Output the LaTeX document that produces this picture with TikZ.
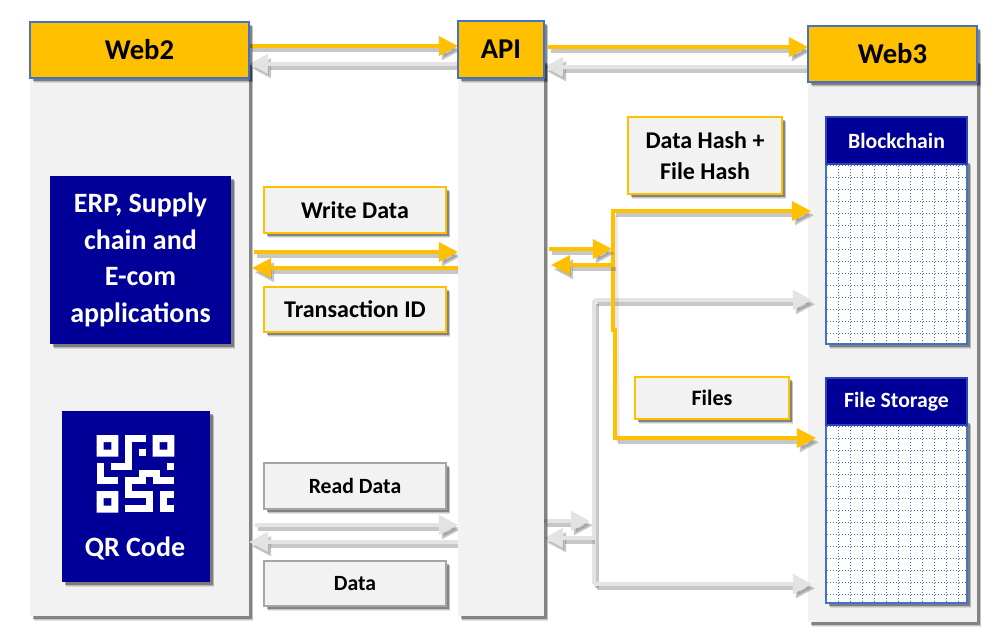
\documentclass[tikz,border=0pt]{standalone}
\usepackage{fontspec}
\setmainfont{Carlito}
\usetikzlibrary{arrows.meta,shadows}
\definecolor{amber}{HTML}{FFC000}
\definecolor{edgeblue}{HTML}{4472C4}
\definecolor{navy}{HTML}{000099}
\definecolor{panel}{HTML}{F2F2F2}
\definecolor{pale}{HTML}{E3E3E3}
\definecolor{boxgrey}{HTML}{A6A6A6}
\pgfdeclarelayer{panels}
\pgfdeclarelayer{wires}
\pgfsetlayers{panels,wires,main}
\tikzset{
  x=0.75pt,y=-0.75pt,
  softshadow/.style={
    general shadow={shadow xshift=3pt,shadow yshift=-3.6pt,fill=black,opacity=.10},
    general shadow={shadow xshift=3pt,shadow yshift=-3pt,fill=black,opacity=.14},
    general shadow={shadow xshift=2.6pt,shadow yshift=-2.6pt,fill=black,opacity=.18},
    general shadow={shadow xshift=2.2pt,shadow yshift=-2.2pt,fill=black,opacity=.18}},
  base/.style={inner sep=0pt,outer sep=0pt,align=center,softshadow},
  panelbox/.style={base,fill=panel},
  headbox/.style={base,fill=amber,draw=edgeblue,line width=1.5pt,font=\fontsize{21.5}{24}\selectfont\bfseries,text=black},
  navybox/.style={base,fill=navy,font=\fontsize{21}{27.4}\selectfont\bfseries,text=white},
  titlebox/.style={inner sep=0pt,outer sep=0pt,fill=navy,draw=edgeblue!60!navy,line width=.9pt,font=\fontsize{16.3}{18}\selectfont\bfseries,text=white},
  gridbox/.style={base,fill=white,draw=edgeblue,line width=.9pt},
  tagamber/.style={base,fill=panel,draw=amber,line width=1.2pt,font=\fontsize{18}{23.4}\selectfont\bfseries,text=black},
  taggrey/.style={base,fill=panel,draw=boxgrey,line width=1.2pt,font=\fontsize{16.3}{18}\selectfont\bfseries,text=black},
  tagfiles/.style={tagamber,font=\fontsize{16.5}{18}\selectfont\bfseries},
  gridline/.style={draw=edgeblue,line width=.95pt,dash pattern=on 1.3pt off .95pt},
  lineamber/.style={draw=amber,line width=2.4pt},
  linepale/.style={draw=pale,line width=3.2pt},
  tipamber/.style={lineamber,-{Triangle[length=14.3pt,width=14.3pt,fill=amber,color=amber]}},
  tippale/.style={linepale,-{Triangle[length=14.3pt,width=14.3pt,fill=pale,color=pale]}},
  lineshade/.style={draw=black!60,opacity=.36,line width=2.8pt,transform canvas={shift={(2.2pt,-3.2pt)}}},
  tipshade/.style={lineshade,-{Triangle[length=14.3pt,width=14.3pt,fill=black!60,color=black!60]}},
}
\newcommand{\pbox}[7]{\node[#2,minimum width=(#5-#3)*0.75pt,minimum height=(#6-#4)*0.75pt] (#1) at ({(#3+#5)/2},{(#4+#6)/2}) {#7};}
\newcommand{\conn}[2]{\path[tipshade] #2; \draw[#1] #2;}
\newcommand{\qrcell}[4]{\fill[white] ({96.7+7*#1},{435+7*#2}) rectangle ({96.7+7*#3},{435+7*#4});}
\newcommand{\gridfill}[6]{%
  \foreach \gx in {#1,#2,...,#3} {\draw[gridline] (\gx,#4) -- (\gx,#6);}
  \foreach \gy in {#4,#5,...,#6} {\draw[gridline] (#1,\gy) -- (#3,\gy);}}
\begin{document}
\begin{tikzpicture}
\useasboundingbox (0,0) rectangle (1004,637);
\begin{pgfonlayer}{panels}
\fill[white] (0,0) rectangle (1004,637);
\pbox{webtwop}{panelbox}{30}{60}{249}{616}{}
\pbox{webthreep}{panelbox}{808}{60}{977}{622}{}
\end{pgfonlayer}

% Columns and headers
\pbox{apip}{panelbox}{458}{60}{544}{616}{}
\pbox{webtwoh}{headbox}{30}{22}{249}{78}{Web2}
\pbox{apih}{headbox}{458}{21}{544}{78}{API}
\pbox{webthreeh}{headbox}{808}{26}{977}{82}{Web3}

% Web2 boxes
\pbox{erp}{navybox}{50}{176}{231}{344}{ERP, Supply\\chain and\\E-com\\applications}
\pbox{qr}{navybox}{62}{411}{210}{582}{}
\node[font=\fontsize{21}{24}\selectfont\bfseries,text=white] (qrlabel) at (135,548) {QR Code};
% QR symbol
\foreach \c/\r in {0/0,8/0,0/8} {
  \fill[white,even odd rule] ({96.7+7*\c},{435+7*\r}) rectangle ++(21.7,21.7)
     ({96.7+7*\c+7},{435+7*\r+7}) rectangle ++(7.7,7.7);
}
\qrcell{4}{0}{7}{1}\qrcell{4}{0}{5}{5}\qrcell{2}{4}{5}{5}\qrcell{6}{2}{7}{3}
\qrcell{0}{4}{1}{7}\qrcell{0}{6}{3}{7}\qrcell{10}{4}{11}{5}
\qrcell{6}{5}{9}{6}\qrcell{6}{5}{7}{7}\qrcell{8}{5}{9}{7}\qrcell{8}{6}{11}{7}
\qrcell{4}{6}{7}{7}\qrcell{4}{6}{5}{9}\qrcell{4}{8}{7}{9}
\qrcell{7}{8}{8}{11}\qrcell{4}{10}{8}{11}
\qrcell{9}{8}{10}{11}\qrcell{9}{8}{11}{9}\qrcell{9}{10}{11}{11}

% Web3 stores
\pbox{chaingrid}{gridbox}{826}{160}{967}{344}{}
\gridfill{826.5}{838.5}{967}{165.5}{177.5}{344}
\pbox{chain}{titlebox}{826}{117}{967}{164}{Blockchain}
\pbox{filegrid}{gridbox}{826}{420}{967}{603}{}
\gridfill{826.5}{838.5}{967}{426.5}{438.5}{603}
\pbox{filestore}{titlebox}{826}{378}{967}{425}{File Storage}

% Tags
\pbox{write}{tagamber}{264}{187}{446}{233}{Write Data}
\pbox{txid}{tagamber}{264}{287}{446}{332}{Transaction ID}
\pbox{read}{taggrey}{264}{463}{446}{509}{Read Data}
\pbox{data}{taggrey}{264}{561}{446}{606}{Data}
\pbox{hash}{tagamber}{628}{117}{782}{194}{Data Hash +\\File Hash}
\pbox{files}{tagfiles}{635}{377}{789}{419}{Files}

% Named connector points
\coordinate (yjoin) at (612,249);
\coordinate (yjointwo) at (613,265);
\coordinate (ytop) at (613,211);
\coordinate (ybot) at (615,438);
\coordinate (ytopend) at (811,211);
\coordinate (ybotend) at (816,438);
\coordinate (gjoin) at (590,521);
\coordinate (gjointwo) at (592,538);
\coordinate (gtop) at (594,300);
\coordinate (gbot) at (594,584);
\coordinate (gtopend) at (812,300);
\coordinate (gbotend) at (812,584);
\coordinate (apioutone) at (548,47);
\coordinate (writeout) at (254,252);
\coordinate (txend) at (252,268);
\coordinate (readout) at (255,525);
\coordinate (yin) at (549,249);
\coordinate (yout) at (551,265);

\begin{pgfonlayer}{wires}
% Connectors: top band
\conn{tipamber}{(webtwoh.east |- 0,46) -- (apih.west |- 0,46)}
\conn{tippale}{(apih.west |- 0,64) -- (webtwoh.east |- 0,64)}
\conn{tipamber}{(apioutone) -- (webthreeh.west |- apioutone)}
\conn{tippale}{(webthreeh.west |- 0,67) -- (apih.east |- 0,67)}
% Write / transaction
\conn{tipamber}{(writeout) -- (apip.west |- writeout)}
\conn{tipamber}{(apip.west |- txend) -- (txend)}
% Read / data
\conn{tippale}{(readout) -- (apip.west |- readout)}
\conn{tippale}{(apip.west |- 0,542) -- (webtwop.east |- 0,542)}
% Grey trunk
\path[lineshade] (gtop) -- (gbot);
\conn{tippale}{(gtop) -- (gtopend)}
\conn{tippale}{(gbot) -- (gbotend)}
\draw[linepale] (gtop) -- (gbot);
\conn{tippale}{(apip.east |- gjoin) -- (gjoin)}
\conn{tippale}{(gjointwo) -- (apip.east |- gjointwo)}
% Amber trunk
\path[lineshade,opacity=.14] (ytop) -- (ybot);
\conn{tipamber}{(ytop) -- (ytopend)}
\conn{tipamber}{(ybot) -- (ybotend)}
\draw[lineamber,line cap=rect] (ytop) -- (613,330) -- (615,330) -- (ybot);
\conn{tipamber}{(yin) -- (yjoin)}
\conn{tipamber}{(yjointwo) -- (yout)}
\end{pgfonlayer}
\end{tikzpicture}
\end{document}
